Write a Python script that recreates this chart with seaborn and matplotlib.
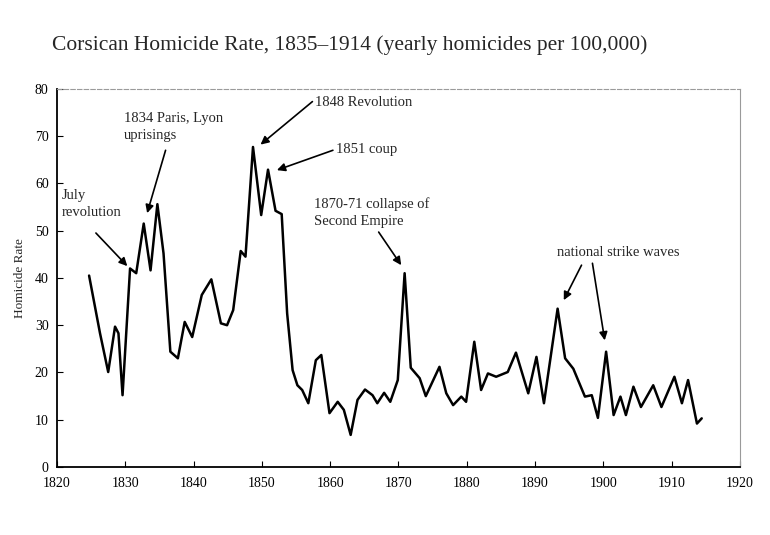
import matplotlib
matplotlib.use("Agg")
import matplotlib.pyplot as plt
import pandas as pd
import seaborn as sns

# values (fractional years at turning points)
years = [1824.7, 1826.3, 1827.5, 1828.5, 1829.0, 1829.6, 1830.7, 1831.6, 1832.7, 1833.7,
         1834.7, 1835.6, 1836.6, 1837.7, 1838.7, 1839.8, 1841.2, 1842.6, 1844.0, 1844.9,
         1845.8, 1846.9, 1847.6, 1848.7, 1849.9, 1850.9, 1852.0, 1852.9, 1853.7, 1854.5,
         1855.2, 1855.9, 1856.8, 1857.9, 1858.7, 1859.9, 1861.1, 1862.0, 1863.0, 1864.0,
         1865.1, 1866.2, 1866.9, 1867.9, 1868.8, 1869.9, 1870.9, 1871.8, 1873.1, 1874.0,
         1876.0, 1877.0, 1878.0, 1879.2, 1879.9, 1881.1, 1882.1, 1883.1, 1884.3, 1886.0,
         1887.2, 1889.0, 1890.2, 1891.3, 1893.3, 1894.4, 1895.6, 1897.3, 1898.3, 1899.2,
         1900.4, 1901.5, 1902.5, 1903.3, 1904.4, 1905.5, 1907.3, 1908.5, 1910.4, 1911.5,
         1912.4, 1913.7, 1914.4]
rates = [40.5, 28.3, 20.1, 29.7, 28.3, 15.2, 42.0, 41.0, 51.5, 41.6,
         55.6, 45.2, 24.4, 23.0, 30.7, 27.5, 36.4, 39.7, 30.4, 30.0,
         33.2, 45.7, 44.5, 67.7, 53.3, 62.9, 54.2, 53.5, 32.5, 20.5,
         17.3, 16.3, 13.5, 22.6, 23.7, 11.4, 13.8, 12.1, 6.8, 14.2,
         16.4, 15.2, 13.5, 15.7, 13.8, 18.4, 41.0, 21.0, 18.8, 15.0,
         21.2, 15.6, 13.1, 14.9, 13.8, 26.5, 16.3, 19.8, 19.1, 20.1,
         24.2, 15.6, 23.3, 13.5, 33.5, 23.0, 20.8, 14.9, 15.2, 10.4,
         24.4, 11.0, 14.9, 11.0, 17.0, 12.7, 17.3, 12.7, 19.1, 13.5,
         18.4, 9.2, 10.3]

x_ticks = list(range(1820, 1921, 10))
y_ticks = list(range(0, 81, 10))

title = "Corsican Homicide Rate, 1835\u20131914 (yearly homicides per 100,000)"
y_label = "Homicide Rate"

# (text, text position, [(arrow start, arrow end), ...])
notes = [
    ("July\nrevolution", (1820.7, 58.8), [((1825.7, 49.5), (1830.3, 42.5))]),
    ("1834 Paris, Lyon\nuprisings", (1829.8, 75.0), [((1835.9, 67.0), (1833.2, 53.7))]),
    ("1848 Revolution", (1857.8, 78.5), [((1857.4, 77.3), (1849.8, 68.2))]),
    ("1851 coup", (1860.8, 68.5), [((1860.4, 67.0), (1852.2, 62.8))]),
    ("1870-71 collapse of\nSecond Empire", (1857.6, 57.0), [((1867.1, 49.7), (1870.4, 42.7))]),
    ("national strike waves", (1893.2, 46.8),
     [((1896.8, 42.7), (1894.2, 35.3)), ((1898.4, 43.1), (1900.2, 26.8))]),
]

df = pd.DataFrame({"year": years, "rate": rates})

sns.set_style("ticks")
plt.rcParams["font.family"] = ["Liberation Serif", "DejaVu Serif"]

fig = plt.figure(figsize=(7.7, 5.35), dpi=100)
ax = fig.add_axes([0.074, 0.127, 0.887, 0.707])

sns.lineplot(data=df, x="year", y="rate", color="black", linewidth=1.8, ax=ax, sort=False,
             solid_joinstyle="round", solid_capstyle="round")

ax.set_xlim(1820, 1920)
ax.set_ylim(0, 80)
ax.set_xticks(x_ticks)
ax.set_yticks(y_ticks)
ax.tick_params(direction="in", length=4, labelsize=10, colors="black")
ax.tick_params(axis="x", pad=7)
ax.tick_params(axis="y", pad=6)
ax.set_xlabel("")
ax.set_ylabel(y_label, fontsize=9.5)
ax.yaxis.set_label_coords(-0.045, 0.5)

ax.spines["left"].set_color("black")
ax.spines["bottom"].set_color("black")
ax.spines["left"].set_linewidth(1.3)
ax.spines["bottom"].set_linewidth(1.3)
ax.spines["top"].set_color("#9a9a9a")
ax.spines["top"].set_linestyle((0, (4, 2)))
ax.spines["right"].set_color("#9a9a9a")

for text, pos, arrows in notes:
    ax.text(pos[0], pos[1], text, fontsize=10.5, ha="left", va="top", linespacing=1.4)
    for start, end in arrows:
        ax.annotate("", xy=end, xytext=start,
                    arrowprops=dict(arrowstyle="-|>", color="black", lw=1.2,
                                    mutation_scale=12, shrinkA=0, shrinkB=0))

fig.text(0.068, 0.915, title, fontsize=15.5, ha="left", va="center")

fig.savefig("out.png", dpi=100)
